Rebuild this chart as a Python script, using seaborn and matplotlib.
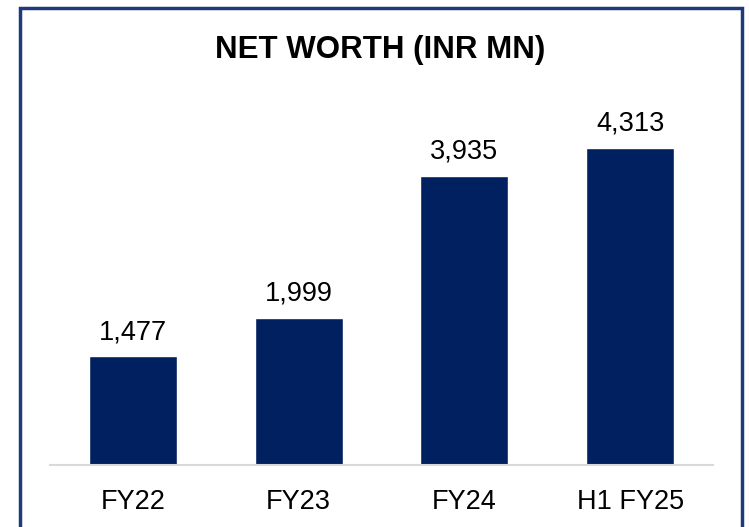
import matplotlib
matplotlib.use("Agg")
import matplotlib.pyplot as plt
import seaborn as sns
import pandas as pd
from matplotlib.patches import Rectangle

# %%
periods = ["FY22", "FY23", "FY24", "H1 FY25"]
net_worth = [1477, 1999, 3935, 4313]

df = pd.DataFrame({"period": periods, "net_worth": net_worth})

# %%
sns.set_style("white")
plt.rcParams["font.family"] = ["Liberation Sans", "DejaVu Sans"]

fig = plt.figure(figsize=(7.49, 5.27), dpi=100)
ax = fig.add_axes([50 / 749, 1 - 465 / 527, (713 - 50) / 749, 365 / 527])

sns.barplot(data=df, x="period", y="net_worth", color="#002060",
            width=0.53, saturation=1, ax=ax)

for c in ax.containers:
    ax.bar_label(c, labels=[f"{v:,.0f}" for v in df["net_worth"]],
                 padding=8, fontsize=19.5, color="black")

ax.set_xlim(-0.5, 3.5)
ax.set_ylim(0, 4964)
ax.set_xlabel("")
ax.set_ylabel("")
ax.set_yticks([])
ax.tick_params(axis="x", length=0, pad=17, labelsize=19.5, labelcolor="black")
for s in ["top", "right", "left"]:
    ax.spines[s].set_visible(False)
ax.spines["bottom"].set_color("#d9d9d9")
ax.spines["bottom"].set_linewidth(1.5)

fig.text(0.508, 1 - 50 / 527, "NET WORTH (INR MN)", ha="center", va="center",
         fontsize=22.5, fontweight="bold", color="black")

# outer frame
fig.patches.append(Rectangle((20 / 749, -0.05), (742 - 20) / 749, (527 - 8) / 527 + 0.05,
                             transform=fig.transFigure, fill=False,
                             edgecolor="#1f3a7a", linewidth=2.5))

fig.savefig("out.png", dpi=100)
